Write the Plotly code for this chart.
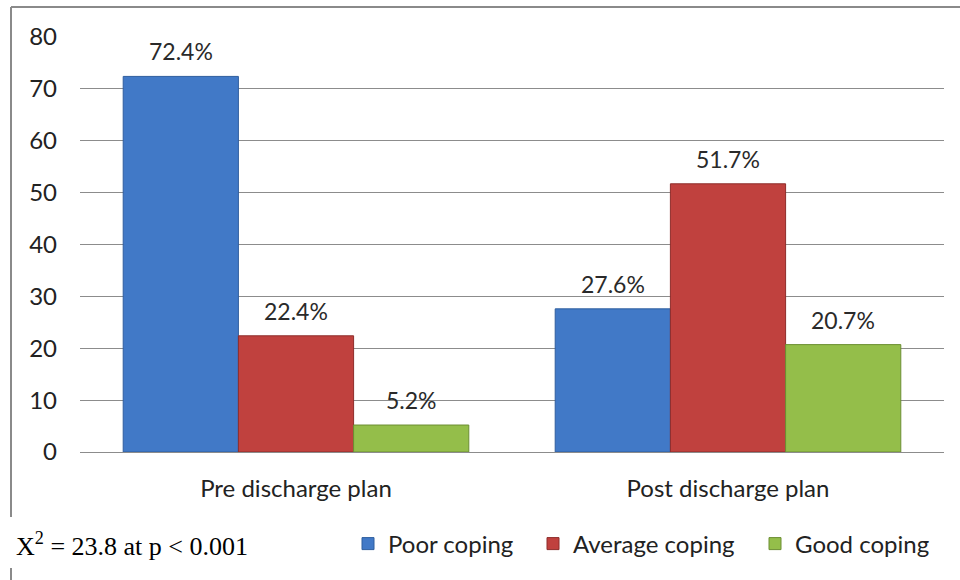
import plotly.graph_objects as go

categories = ["Pre discharge plan", "Post discharge plan"]
series_names = ["Poor coping", "Average coping", "Good coping"]
poor = [72.4, 27.6]
average = [22.4, 51.7]
good = [5.2, 20.7]
colors = ["#4179C7", "#C0413E", "#94BE4A"]
edges = ["#2F5E9E", "#8E2D2B", "#6C8E32"]
y_ticks = [0, 10, 20, 30, 40, 50, 60, 70, 80]

FONT = "Lato, 'Open Sans', sans-serif"
W, H = 960, 580
ML, MR, MT, MB = 80, 16, 37, 128
PW = W - ML - MR
PH = H - MT - MB
BARGAP = 0.2

def px(x):
    return (x - ML) / PW

def py(y):
    return (H - MB - y) / PH

fig = go.Figure()
series = [poor, average, good]
legend_ids = ["legend", "legend2", "legend3"]
for name, vals, c, e, lg in zip(series_names, series, colors, edges, legend_ids):
    fig.add_trace(go.Bar(
        x=categories, y=vals, name=name,
        marker=dict(color=c, line=dict(color=e, width=1)),
        legend=lg,
    ))

# data labels above bars
slot = PW * (1 - BARGAP) / len(categories) / len(series)
annotations = []
for i, vals in enumerate(series):
    for cat, v in zip(categories, vals):
        annotations.append(dict(
            x=cat, y=v, xref="x", yref="y", text=f"{v:.1f}%",
            showarrow=False, yanchor="bottom", yshift=9,
            xshift=(i - 1) * slot,
            font=dict(family=FONT, size=23, color="#2a2a2a"),
        ))

annotations.append(dict(
    xref="paper", yref="paper", x=px(14), y=py(544),
    xanchor="left", yanchor="middle", showarrow=False,
    text="X<sup>2</sup> = 23.8 at p < 0.001",
    font=dict(family="'Liberation Serif', 'Times New Roman', serif", size=26, color="#000000"),
))

leg_common = dict(orientation="h", xanchor="left", yanchor="middle", y=py(544),
                  font=dict(family=FONT, size=24, color="#222222"),
                  itemwidth=30, bgcolor="rgba(0,0,0,0)")

fig.update_layout(
    width=W, height=H,
    margin=dict(l=ML, r=MR, t=MT, b=MB),
    paper_bgcolor="white", plot_bgcolor="white",
    barmode="group", bargap=BARGAP, bargroupgap=0,
    font=dict(family=FONT, size=24, color="#222222"),
    showlegend=True,
    legend=dict(x=px(348), **leg_common),
    legend2=dict(x=px(533), **leg_common),
    legend3=dict(x=px(755), **leg_common),
    xaxis=dict(showline=False, ticks="", tickfont=dict(size=24, color="#222222"),
               ticklabelstandoff=20),
    yaxis=dict(range=[0, 80], tickvals=y_ticks, showgrid=True, gridcolor="#8c8c8c",
               gridwidth=1, zeroline=True, zerolinecolor="#8c8c8c", zerolinewidth=1,
               tickfont=dict(size=24, color="#222222"), ticklabelstandoff=22),
    shapes=[
        dict(type="line", xref="paper", yref="paper", x0=px(11), x1=px(962),
             y0=py(7), y1=py(7), line=dict(color="#8a8a8a", width=2)),
        dict(type="line", xref="paper", yref="paper", x0=px(11), x1=px(11),
             y0=py(7), y1=py(517), line=dict(color="#8a8a8a", width=2)),
        dict(type="line", xref="paper", yref="paper", x0=px(11), x1=px(11),
             y0=py(568), y1=py(582), line=dict(color="#8a8a8a", width=2)),
    ],
    annotations=annotations,
)

fig.write_html("out.html", config={"displayModeBar": False},
               post_script="document.body.style.margin='0';")
